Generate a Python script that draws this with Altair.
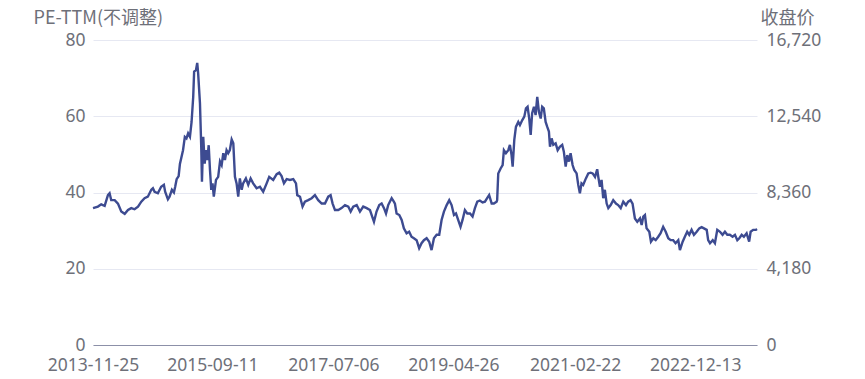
import altair as alt
import pandas as pd

dates = [
    "2013-11-25", "2013-12-22", "2014-01-09", "2014-01-28", "2014-02-15", "2014-02-24", "2014-03-05", "2014-03-24",
    "2014-04-11", "2014-04-29", "2014-05-18", "2014-06-05", "2014-06-23", "2014-07-11", "2014-07-30", "2014-08-17",
    "2014-09-04", "2014-09-22", "2014-10-11", "2014-10-20", "2014-10-29", "2014-11-16", "2014-12-04", "2014-12-19",
    "2014-12-26", "2015-01-10", "2015-01-19", "2015-02-01", "2015-02-12", "2015-02-19", "2015-02-27", "2015-03-10",
    "2015-03-17", "2015-04-03", "2015-04-13", "2015-04-22", "2015-05-01", "2015-05-11", "2015-05-20", "2015-05-29",
    "2015-06-03", "2015-06-13", "2015-06-20", "2015-06-25", "2015-07-05", "2015-07-12", "2015-07-16", "2015-07-23",
    "2015-07-31", "2015-08-07", "2015-08-14", "2015-08-22", "2015-08-29", "2015-09-05", "2015-09-12", "2015-09-19",
    "2015-10-01", "2015-10-13", "2015-10-23", "2015-11-01", "2015-11-10", "2015-11-19", "2015-11-28", "2015-12-07",
    "2015-12-16", "2015-12-26", "2016-01-04", "2016-01-13", "2016-01-22", "2016-01-31", "2016-02-09", "2016-02-19",
    "2016-02-27", "2016-03-13", "2016-03-26", "2016-04-08", "2016-04-22", "2016-05-11", "2016-05-29", "2016-06-16",
    "2016-07-05", "2016-07-19", "2016-08-10", "2016-08-29", "2016-09-12", "2016-09-25", "2016-10-08", "2016-10-23",
    "2016-11-10", "2016-11-28", "2016-12-13", "2016-12-20", "2017-01-04", "2017-01-18", "2017-01-31", "2017-02-18",
    "2017-03-09", "2017-03-27", "2017-04-14", "2017-05-03", "2017-05-21", "2017-06-08", "2017-06-21", "2017-07-02",
    "2017-07-15", "2017-08-02", "2017-08-20", "2017-09-08", "2017-09-26", "2017-10-09", "2017-10-23", "2017-11-11",
    "2017-11-29", "2017-12-17", "2018-01-05", "2018-01-23", "2018-02-14", "2018-02-28", "2018-03-15", "2018-03-28",
    "2018-04-10", "2018-04-21", "2018-05-03", "2018-05-22", "2018-06-03", "2018-06-09", "2018-06-18", "2018-07-03",
    "2018-07-16", "2018-07-28", "2018-08-12", "2018-08-26", "2018-09-08", "2018-09-21", "2018-10-06", "2018-10-20",
    "2018-11-02", "2018-11-15", "2018-11-30", "2018-12-14", "2018-12-27", "2019-01-09", "2019-01-24", "2019-02-07",
    "2019-02-20", "2019-03-05", "2019-03-20", "2019-04-03", "2019-04-16", "2019-04-29", "2019-05-10", "2019-05-22",
    "2019-06-04", "2019-06-15", "2019-06-28", "2019-07-11", "2019-07-26", "2019-08-09", "2019-08-22", "2019-09-04",
    "2019-09-18", "2019-10-03", "2019-10-16", "2019-10-28", "2019-11-08", "2019-11-22", "2019-12-04", "2019-12-19",
    "2019-12-22", "2019-12-28", "2020-01-10", "2020-01-21", "2020-01-28", "2020-02-08", "2020-02-21", "2020-03-01",
    "2020-03-10", "2020-03-16", "2020-03-25", "2020-04-03", "2020-04-16", "2020-04-25", "2020-05-08", "2020-05-19",
    "2020-05-28", "2020-06-06", "2020-06-15", "2020-06-23", "2020-07-01", "2020-07-11", "2020-07-20", "2020-07-29",
    "2020-08-07", "2020-08-17", "2020-08-25", "2020-09-03", "2020-09-13", "2020-09-22", "2020-10-01", "2020-10-07",
    "2020-10-16", "2020-10-25", "2020-11-07", "2020-11-18", "2020-11-30", "2020-12-13", "2020-12-22", "2021-01-01",
    "2021-01-10", "2021-01-19", "2021-01-28", "2021-02-08", "2021-02-17", "2021-03-02", "2021-03-11", "2021-03-20",
    "2021-03-29", "2021-04-07", "2021-04-22", "2021-05-05", "2021-05-18", "2021-05-29", "2021-06-11", "2021-06-23",
    "2021-06-29", "2021-07-08", "2021-07-17", "2021-07-26", "2021-08-04", "2021-08-14", "2021-08-23", "2021-09-05",
    "2021-09-19", "2021-10-04", "2021-10-16", "2021-10-30", "2021-11-13", "2021-11-28", "2021-12-10", "2021-12-23",
    "2022-01-03", "2022-01-16", "2022-01-29", "2022-02-13", "2022-02-22", "2022-03-03", "2022-03-12", "2022-03-21",
    "2022-04-05", "2022-04-14", "2022-04-27", "2022-05-10", "2022-05-24", "2022-06-06", "2022-06-20", "2022-07-04",
    "2022-07-18", "2022-07-31", "2022-08-14", "2022-08-27", "2022-09-11", "2022-09-20", "2022-10-05", "2022-10-17",
    "2022-10-30", "2022-11-10", "2022-11-23", "2022-12-06", "2022-12-21", "2023-01-04", "2023-01-17", "2023-01-30",
    "2023-02-14", "2023-02-22", "2023-03-04", "2023-03-19", "2023-03-31", "2023-04-13", "2023-04-28", "2023-05-12",
    "2023-05-25", "2023-06-07", "2023-06-21", "2023-07-06", "2023-07-19", "2023-08-01", "2023-08-12", "2023-08-25",
    "2023-09-06", "2023-09-21", "2023-10-05", "2023-10-13", "2023-10-27", "2023-11-11", "2023-11-17",
]

pe_ttm = [
    35.9, 36.3, 36.9, 36.5, 39.3, 39.8, 38.0, 38.0,
    37.1, 35.0, 34.4, 35.4, 35.9, 35.6, 36.3, 37.6,
    38.5, 38.9, 40.7, 41.1, 40.2, 39.8, 41.5, 42.0,
    40.2, 38.2, 38.9, 40.7, 40.0, 41.5, 43.5, 44.3,
    47.5, 51.1, 54.6, 54.2, 55.5, 54.6, 58.5, 65.1,
    71.7, 72.1, 74.0, 71.3, 63.4, 52.0, 42.8, 54.6,
    47.6, 51.1, 48.5, 52.4, 45.9, 40.7, 42.4, 38.9,
    43.3, 44.1, 48.1, 47.2, 50.3, 48.5, 51.1, 50.3,
    51.1, 53.9, 52.9, 44.1, 42.4, 38.9, 43.7, 40.7,
    42.4, 43.7, 42.0, 43.7, 42.4, 41.1, 41.5, 40.2,
    42.4, 44.1, 43.3, 44.8, 45.2, 44.3, 42.4, 43.5,
    43.3, 43.5, 42.4, 39.3, 38.9, 36.3, 37.6, 38.0,
    38.5, 39.3, 38.0, 37.1, 37.1, 38.9, 39.3, 37.1,
    35.4, 35.4, 35.9, 36.7, 36.3, 35.0, 36.3, 36.7,
    35.0, 36.3, 35.9, 35.4, 32.3, 35.0, 36.7, 37.1,
    35.9, 34.5, 36.7, 38.5, 37.6, 37.1, 34.5, 34.1,
    32.8, 30.6, 29.3, 29.7, 28.4, 28.0, 27.5, 25.4,
    26.7, 27.5, 28.0, 27.1, 24.9, 28.0, 28.9, 28.9,
    32.8, 35.0, 36.7, 38.0, 36.7, 34.1, 34.5, 32.8,
    31.0, 32.8, 35.4, 34.5, 34.5, 33.7, 35.9, 37.6,
    37.9, 37.4, 37.6, 38.5, 39.3, 37.1, 37.1, 37.6,
    38.0, 45.0, 46.3, 47.2, 51.1, 50.3, 51.1, 52.5,
    49.8, 46.8, 53.8, 57.2, 58.5, 57.7, 59.0, 59.9,
    62.1, 62.5, 59.4, 55.1, 60.8, 62.5, 60.3, 65.1,
    61.2, 59.4, 62.5, 62.1, 58.5, 57.2, 56.0, 52.0,
    54.2, 52.5, 52.9, 51.1, 52.0, 52.5, 50.7, 46.8,
    49.8, 48.1, 50.3, 47.2, 45.9, 45.0, 42.0, 39.8,
    42.4, 42.0, 43.7, 45.0, 45.2, 45.0, 44.1, 46.1,
    44.1, 41.5, 43.3, 38.5, 40.7, 37.1, 35.9, 36.7,
    38.0, 37.1, 36.7, 35.9, 37.6, 36.7, 37.6, 38.0,
    37.1, 33.2, 32.3, 33.2, 31.5, 33.7, 34.1, 30.6,
    29.7, 27.1, 28.0, 27.5, 28.4, 29.3, 31.0, 29.7,
    28.0, 27.5, 27.5, 26.7, 27.5, 24.9, 27.1, 28.4,
    29.7, 28.9, 30.2, 28.9, 29.7, 30.6, 30.9, 30.6,
    30.2, 27.5, 26.7, 27.5, 26.7, 30.2, 29.7, 28.9,
    29.7, 28.9, 28.9, 28.4, 28.9, 27.5, 28.0, 28.9,
    28.4, 29.3, 27.1, 29.7, 30.2, 30.2, 30.4,
]

x_tick_labels = ["2013-11-25", "2015-09-11", "2017-07-06", "2019-04-26", "2021-02-22", "2022-12-13"]
pe_ticks = [0, 20, 40, 60, 80]
close_ticks = [0, 4180, 8360, 12540, 16720]


def dt(s):
    y, m, d = (int(p) for p in s.split("-"))
    return alt.DateTime(year=y, month=m, date=d, utc=True)


df = pd.DataFrame({"date": dates, "pe": pe_ttm})
close_df = pd.DataFrame({"close": close_ticks})

FONT = "Noto Sans"
CJK = "Noto Sans CJK SC"
LABEL_COLOR = "#6E7079"
FS = 17.5
TFS = 18

line = alt.Chart(df).mark_line(color="#3D4B91", strokeWidth=2.4).encode(
    x=alt.X(
        "date:T",
        scale=alt.Scale(type="utc", domain=[dt(dates[0]), dt("2023-11-17")], nice=False),
        axis=alt.Axis(
            values=[dt(s) for s in x_tick_labels],
            format="%Y-%m-%d",
            title=None,
            grid=False,
            ticks=False,
            tickSize=0,
            labelPadding=11,
            domainColor="#8C90A8",
            domainWidth=1,
            labelColor=LABEL_COLOR,
            labelFont=FONT,
            labelFontSize=FS,
            labelFlush=False,
            labelOverlap=False,
        ),
    ),
    y=alt.Y(
        "pe:Q",
        scale=alt.Scale(domain=[0, 80], nice=False),
        axis=alt.Axis(
            values=pe_ticks,
            title="PE-TTM(不调整)",
            titleAngle=0,
            titleX=-60,
            titleY=-22,
            titleAlign="left",
            titleBaseline="middle",
            titleFont=CJK,
            titleFontSize=TFS,
            titleFontWeight="normal",
            titleColor=LABEL_COLOR,
            grid=True,
            gridColor="#E6E8F2",
            gridWidth=1,
            domain=False,
            ticks=False,
            tickSize=0,
            labelPadding=8,
            labelColor=LABEL_COLOR,
            labelFont=FONT,
            labelFontSize=FS,
        ),
    ),
)

right = alt.Chart(close_df).mark_point(opacity=0).encode(
    y=alt.Y(
        "close:Q",
        scale=alt.Scale(domain=[0, 16720], nice=False),
        axis=alt.Axis(
            orient="right",
            values=close_ticks,
            format=",d",
            title="收盘价",
            titleAngle=0,
            titleX=3,
            titleY=-22,
            titleAlign="left",
            titleBaseline="middle",
            titleFont=CJK,
            titleFontSize=TFS,
            titleFontWeight="normal",
            titleColor=LABEL_COLOR,
            grid=False,
            domain=False,
            ticks=False,
            tickSize=0,
            labelPadding=9,
            labelColor=LABEL_COLOR,
            labelFont=FONT,
            labelFontSize=FS,
        ),
    ),
)

chart = (
    alt.layer(line, right)
    .resolve_scale(y="independent")
    .properties(
        width=664,
        height=305,
        autosize=alt.AutoSizeParams(type="none"),
        padding={"left": 85, "top": 32, "right": 100, "bottom": 34},
        background="white",
    )
    .configure_view(stroke=None)
)

chart.save("out.html", embed_options={"renderer": "svg", "actions": False})
